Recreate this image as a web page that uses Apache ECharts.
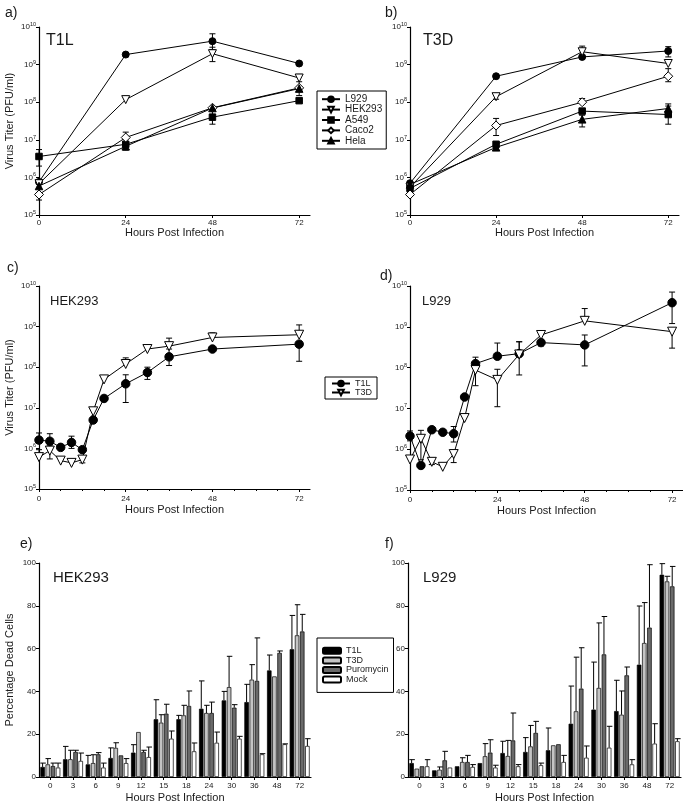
<!DOCTYPE html>
<html><head><meta charset="utf-8">
<script src="https://cdn.jsdelivr.net/npm/echarts@6/dist/echarts.min.js"></script>
<style>html,body{margin:0;padding:0;background:#fff}#c{width:683px;height:804px}</style>
</head><body><div id="c"></div>
<script>
// ---------- DATA ----------
const cellLines = ['L929','HEK293','A549','Caco2','Hela'];
const hoursAB = [0, 24, 48, 72];
const hourTicks = [0, 24, 48, 72];
const hourMinorTicks = [6, 12, 18, 30, 36, 42, 54, 60, 66];

// Panel a) T1L
const aL929    = [7.6e5, 1.85e9, 4.2e9, 1.07e9];
const aL929Hi  = [null, null, 6.6e9, null];
const aL929Lo  = [null, null, 2.5e9, null];
const aHEK293   = [6.8e5, 1.17e8, 1.95e9, 4.4e8];
const aHEK293Hi = [null, null, 2.9e9, 5.5e8];
const aHEK293Lo = [null, null, 1.2e9, null];
const aA549   = [3.6e6, 7.6e6, 4.0e7, 1.1e8];
const aA549Hi = [5.5e6, null, 6.2e7, null];
const aA549Lo = [2.0e6, null, 2.6e7, null];
const aCaco2   = [3.5e5, 1.15e7, 7.1e7, 2.4e8];
const aCaco2Hi = [null, 1.6e7, null, null];
const aCaco2Lo = [2.5e5, null, null, null];
const aHela   = [5.9e5, 6.7e6, 7.0e7, 2.3e8];
const aHelaHi = [null, null, null, 3.5e8];
const aHelaLo = [null, 5.3e6, null, 1.5e8];

// Panel b) T3D
const bL929    = [7.0e5, 4.9e8, 1.6e9, 2.3e9];
const bL929Hi  = [null, null, null, 3.0e9];
const bL929Lo  = [null, null, null, 1.6e9];
const bHEK293   = [5.5e5, 1.4e8, 2.2e9, 1.07e9];
const bHEK293Hi = [null, null, 3.1e9, null];
const bHEK293Lo = [null, 1.2e8, null, null];
const bA549   = [5.1e5, 7.6e6, 5.8e7, 4.7e7];
const bA549Hi = [null, null, null, 7.9e7];
const bA549Lo = [null, null, null, 2.6e7];
const bCaco2   = [3.5e5, 2.4e7, 1.0e8, 4.9e8];
const bCaco2Hi = [null, 3.7e7, 1.25e8, 7.8e8];
const bCaco2Lo = [null, 1.3e7, null, 3.5e8];
const bHela   = [6.5e5, 6.3e6, 3.5e7, 6.8e7];
const bHelaHi = [null, null, 4.5e7, 9.0e7];
const bHelaLo = [null, 5.3e6, 2.2e7, null];

// Panels c) d) time course
const hoursCD = [0, 3, 6, 9, 12, 15, 18, 24, 30, 36, 48, 72];
const cT1L   = [1.6e6, 1.5e6, 1.06e6, 1.4e6, 9.3e5, 5.0e6, 1.7e7, 3.9e7, 7.4e7, 1.8e8, 2.8e8, 3.7e8];
const cT1LHi = [2.4e6, 2.3e6, null, 2.0e6, null, null, null, 6.5e7, 1.0e8, 2.8e8, null, null];
const cT1LLo = [null, null, null, 1.0e6, null, null, null, 1.35e7, 5.0e7, 1.1e8, null, 1.4e8];
const cT3D   = [6.1e5, 8.8e5, 5.0e5, 4.4e5, 5.3e5, 8.2e6, 5.0e7, 1.2e8, 2.8e8, 3.3e8, 5.4e8, 6.3e8];
const cT3DHi = [9.3e5, 1.2e6, null, null, null, null, null, 1.7e8, null, 5.2e8, 7.0e8, 1.1e9];
const cT3DLo = [null, 5.5e5, null, null, 4.4e5, null, null, null, null, null, null, null];

const dT1L   = [2.1e6, 4.0e5, 3.0e6, 2.6e6, 2.4e6, 1.9e7, 1.25e8, 1.9e8, 2.2e8, 4.1e8, 3.6e8, 3.9e9];
const dT1LHi = [2.8e6, null, null, null, 3.6e6, null, 1.8e8, 4.0e8, 4.3e8, null, 6.3e8, 7.1e9];
const dT1LLo = [1.6e6, null, null, null, 1.5e6, null, null, null, null, 3.4e8, 1.1e8, 1.2e9];
const dT3D   = [5.6e5, 1.8e6, 4.9e5, 3.7e5, 7.6e5, 5.8e6, 8.7e7, 5.0e7, 2.1e8, 6.3e8, 1.4e9, 7.6e8];
const dT3DHi = [null, 2.9e6, null, null, null, null, null, 9.1e7, 4.3e8, 7.6e8, 2.8e9, null];
const dT3DLo = [null, 5.5e5, 4.2e5, null, 4.7e5, null, 3.6e7, 1.1e7, 6.6e7, null, null, 3.0e8];

// Panels e) f) percentage dead cells
const catsEF = ['0','3','6','9','12','15','18','24','30','36','48','72'];
const barLabels = ['T1L','T3D','Puromycin','Mock'];
const eT1L    = [4.7, 8.3, 5.9, 8.9, 11.4, 27.0, 27.0, 31.9, 35.8, 35.0, 49.8, 59.7];
const eT1LHi  = [6.5, 14.3, 10.1, 13.6, 15.1, 36.1, 28.8, 44.9, 40.0, 43.3, 57.0, 75.5];
const eT3D    = [5.9, 8.3, 6.5, 13.6, 21.0, 25.4, 28.8, 29.9, 42.0, 45.5, 47.0, 66.2];
const eT3DHi  = [8.6, 12.5, 10.4, 16.0, 21.0, 29.1, 33.5, 33.5, 56.4, 52.5, 47.0, 80.5];
const ePuro   = [5.1, 11.7, 10.6, 10.1, 11.7, 29.6, 33.2, 29.9, 32.4, 44.9, 58.0, 68.0];
const ePuroHi = [6.5, 12.5, 11.4, 10.1, 12.5, 34.0, 40.2, 35.0, 33.8, 65.0, 58.9, 76.0];
const eMock   = [4.4, 7.5, 4.4, 6.5, 9.3, 17.9, 12.0, 16.0, 17.9, 10.6, 15.3, 14.5];
const eMockHi = [6.5, 11.2, 6.5, 8.6, 14.0, 21.5, 15.9, 21.0, 19.0, 10.9, 15.5, 17.9];

const fT1L    = [6.5, 3.1, 5.0, 6.5, 11.2, 11.7, 12.5, 24.9, 31.5, 30.8, 52.5, 94.5];
const fT1LHi  = [8.1, 3.1, 5.0, 6.5, 16.7, 18.4, 22.9, 42.5, 53.7, 45.2, 79.9, 99.7];
const fT3D    = [3.9, 3.4, 7.0, 9.7, 9.8, 14.3, 14.8, 30.7, 41.6, 29.1, 62.6, 91.4];
const fT3DHi  = [3.9, 4.7, 9.0, 15.6, 17.1, 24.1, 14.8, 56.0, 72.0, 40.2, 81.5, 93.8];
const fPuro   = [5.0, 7.8, 7.0, 11.4, 17.1, 20.6, 15.3, 41.3, 57.3, 47.5, 69.8, 89.1];
const fPuroHi = [5.0, 12.0, 10.1, 17.4, 29.9, 26.0, 15.3, 60.4, 75.0, 51.4, 99.2, 98.4];
const fMock   = [5.0, 4.4, 4.7, 4.4, 5.0, 5.5, 7.0, 9.0, 13.7, 5.9, 15.6, 16.7];
const fMockHi = [8.1, 4.4, 5.8, 5.5, 5.8, 6.5, 10.1, 14.5, 23.7, 8.1, 24.9, 17.9];

// ---------- STYLE ----------
const FONT = 'Liberation Sans, Arial, sans-serif';
const TXT = '#1a1a1a';
const cellStyle = {
  L929:   {symbol:'circle',   rotate:0,   fill:'#000', size:7},
  HEK293: {symbol:'triangle', rotate:180, fill:'#fff', size:8},
  A549:   {symbol:'rect',     rotate:0,   fill:'#000', size:6.5},
  Caco2:  {symbol:'diamond',  rotate:0,   fill:'#fff', size:9},
  Hela:   {symbol:'triangle', rotate:0,   fill:'#000', size:7.5}
};
const strainStyle = {
  T1L: {symbol:'circle',   rotate:0,   fill:'#000', size:8.5},
  T3D: {symbol:'triangle', rotate:180, fill:'#fff', size:9}
};
const barColors = ['#000000', '#c4c4c4', '#6a6a6a', '#ffffff'];
const CATGAP = 0.12, BARGAP = 0.15;

const grids = [
  {left:39,  top:27,  width:271, height:188},
  {left:410, top:27,  width:269, height:188},
  {left:39,  top:286, width:271, height:203},
  {left:410, top:286, width:273, height:204},
  {left:39,  top:563, width:272, height:214},
  {left:408, top:563, width:273, height:214}
];

const axisLineStyle = {color:'#000', width:1.2};

function hourAxis(g, labelMargin, nameGap) {
  return {
    type:'value', gridIndex:g, position:'bottom', min:0, max:75,
    axisLine:{show:true, lineStyle:axisLineStyle},
    axisTick:{show:true, customValues:hourTicks, length:3, lineStyle:{color:'#000', width:1}},
    axisLabel:{customValues:hourTicks, fontSize:8, color:TXT, fontFamily:FONT, margin:labelMargin},
    splitLine:{show:false},
    name:'Hours Post Infection', nameLocation:'middle', nameGap:nameGap,
    nameTextStyle:{fontSize:11, color:TXT, fontFamily:FONT}
  };
}
function minorHourAxis(g) {
  return {
    type:'value', gridIndex:g, position:'bottom', min:0, max:75,
    axisLine:{show:false},
    axisTick:{show:true, customValues:hourMinorTicks, length:2, lineStyle:{color:'#000', width:1}},
    axisLabel:{show:false}, splitLine:{show:false}
  };
}
function logAxis(g, name) {
  return {
    type:'log', logBase:10, gridIndex:g, min:1e5, max:1e10,
    axisLine:{show:true, lineStyle:axisLineStyle},
    axisTick:{show:true, length:3, lineStyle:{color:'#000', width:1}},
    axisLabel:{
      margin:3,
      formatter: v => '{b|10}{s|' + Math.round(Math.log10(v)) + '}',
      rich:{
        b:{fontSize:8, lineHeight:11, color:TXT, fontFamily:FONT},
        s:{fontSize:5.5, lineHeight:6, color:TXT, fontFamily:FONT, verticalAlign:'top'}
      }
    },
    splitLine:{show:false}, minorTick:{show:false},
    name: name || '', nameLocation:'middle', nameGap:24,
    nameTextStyle:{fontSize:11, color:TXT, fontFamily:FONT}
  };
}
function pctAxis(g, name) {
  return {
    type:'value', gridIndex:g, min:0, max:100, interval:20,
    axisLine:{show:true, lineStyle:axisLineStyle},
    axisTick:{show:true, length:3, lineStyle:{color:'#000', width:1}},
    axisLabel:{fontSize:8, color:TXT, fontFamily:FONT, margin:3},
    splitLine:{show:false},
    name: name || '', nameLocation:'middle', nameGap:24,
    nameTextStyle:{fontSize:11, color:TXT, fontFamily:FONT}
  };
}
function catAxis(g) {
  return {
    type:'category', gridIndex:g, data:catsEF,
    axisLine:{show:true, lineStyle:axisLineStyle},
    axisTick:{show:true, alignWithLabel:true, length:3, lineStyle:{color:'#000', width:1}},
    axisLabel:{fontSize:8, color:TXT, fontFamily:FONT, margin:5, interval:0},
    name:'Hours Post Infection', nameLocation:'middle', nameGap:15,
    nameTextStyle:{fontSize:11, color:TXT, fontFamily:FONT}
  };
}

function lineSeries(name, st, g, xs, vals) {
  return {
    type:'line', name, xAxisIndex:g, yAxisIndex:g,
    data: xs.map((x, k) => [x, vals[k]]),
    symbol: st.symbol, symbolSize: st.size, symbolRotate: st.rotate,
    showAllSymbol:true,
    lineStyle:{color:'#000', width:1},
    itemStyle:{color:st.fill, borderColor:'#000', borderWidth:1},
    z:3, animation:false
  };
}
function errSeries(g, xs, vals, hi, lo) {
  const data = [];
  xs.forEach((x, k) => {
    if (hi[k] != null || lo[k] != null) {
      data.push([x, hi[k] != null ? hi[k] : vals[k], lo[k] != null ? lo[k] : vals[k], vals[k]]);
    }
  });
  return {
    type:'custom', xAxisIndex:g, yAxisIndex:g, data, z:2, silent:true, animation:false,
    encode:{x:0, y:1},
    renderItem(params, api) {
      const x = api.value(0), h = api.value(1), l = api.value(2), m = api.value(3);
      const pH = api.coord([x, h]), pL = api.coord([x, l]);
      const ch = [{type:'line', shape:{x1:pH[0], y1:pH[1], x2:pL[0], y2:pL[1]}, style:{stroke:'#000', lineWidth:1}}];
      if (h !== m) ch.push({type:'line', shape:{x1:pH[0]-3, y1:pH[1], x2:pH[0]+3, y2:pH[1]}, style:{stroke:'#000', lineWidth:1}});
      if (l !== m) ch.push({type:'line', shape:{x1:pL[0]-3, y1:pL[1], x2:pL[0]+3, y2:pL[1]}, style:{stroke:'#000', lineWidth:1}});
      return {type:'group', children:ch};
    }
  };
}
function barSeries(i, g, vals) {
  return {
    type:'bar', name:'bar_' + barLabels[i], xAxisIndex:g, yAxisIndex:g, data:vals,
    barCategoryGap:(CATGAP*100)+'%', barGap:(BARGAP*100)+'%',
    itemStyle:{color:barColors[i], borderColor:'#000', borderWidth:0.7},
    z:2, animation:false
  };
}
function barErrSeries(g, valsList, hiList) {
  const data = [];
  valsList.forEach((vals, i) => {
    vals.forEach((v, j) => { if (hiList[i][j] > v) data.push([j, hiList[i][j], v, i]); });
  });
  return {
    type:'custom', xAxisIndex:g, yAxisIndex:g, data, z:3, silent:true, animation:false,
    encode:{x:0, y:1},
    renderItem(params, api) {
      const j = api.value(0), h = api.value(1), v = api.value(2), i = api.value(3);
      const band = api.size([1, 0])[0];
      const usable = band * (1 - CATGAP);
      const bw = usable / (4 + 3 * BARGAP);
      const c0 = api.coord([j, 0])[0];
      const cx = c0 - usable / 2 + i * bw * (1 + BARGAP) + bw / 2;
      const yT = api.coord([j, h])[1], yV = api.coord([j, v])[1];
      return {type:'group', children:[
        {type:'line', shape:{x1:cx, y1:yV, x2:cx, y2:yT}, style:{stroke:'#000', lineWidth:1}},
        {type:'line', shape:{x1:cx - bw/2, y1:yT, x2:cx + bw/2 + 1, y2:yT}, style:{stroke:'#000', lineWidth:1}}
      ]};
    }
  };
}

// ---------- BUILD ----------
const series = [];
const aSets = {L929:[aL929,aL929Hi,aL929Lo], HEK293:[aHEK293,aHEK293Hi,aHEK293Lo], A549:[aA549,aA549Hi,aA549Lo], Caco2:[aCaco2,aCaco2Hi,aCaco2Lo], Hela:[aHela,aHelaHi,aHelaLo]};
const bSets = {L929:[bL929,bL929Hi,bL929Lo], HEK293:[bHEK293,bHEK293Hi,bHEK293Lo], A549:[bA549,bA549Hi,bA549Lo], Caco2:[bCaco2,bCaco2Hi,bCaco2Lo], Hela:[bHela,bHelaHi,bHelaLo]};
[[0, aSets], [1, bSets]].forEach(([g, sets]) => {
  cellLines.forEach(n => {
    const [v, hi, lo] = sets[n];
    series.push(errSeries(g, hoursAB, v, hi, lo));
    series.push(lineSeries(n, cellStyle[n], g, hoursAB, v));
  });
});
const cSets = {T1L:[cT1L,cT1LHi,cT1LLo], T3D:[cT3D,cT3DHi,cT3DLo]};
const dSets = {T1L:[dT1L,dT1LHi,dT1LLo], T3D:[dT3D,dT3DHi,dT3DLo]};
[[2, cSets], [3, dSets]].forEach(([g, sets]) => {
  ['T1L','T3D'].forEach(n => {
    const [v, hi, lo] = sets[n];
    series.push(errSeries(g, hoursCD, v, hi, lo));
    series.push(lineSeries(n, strainStyle[n], g, hoursCD, v));
  });
});
const eVals = [eT1L, eT3D, ePuro, eMock], eHis = [eT1LHi, eT3DHi, ePuroHi, eMockHi];
const fVals = [fT1L, fT3D, fPuro, fMock], fHis = [fT1LHi, fT3DHi, fPuroHi, fMockHi];
eVals.forEach((v, i) => series.push(barSeries(i, 4, v)));
series.push(barErrSeries(4, eVals, eHis));
fVals.forEach((v, i) => series.push(barSeries(i, 5, v)));
series.push(barErrSeries(5, fVals, fHis));

function txt(text, x, y, size) {
  return {type:'text', x, y, silent:true,
    style:{text, fontSize:size, fontFamily:FONT, fill:TXT, verticalAlign:'middle', align:'left'}};
}

const legendBase = {
  orient:'vertical', selectedMode:false, itemGap:0, itemTextGap:3,
  borderColor:'#000', borderWidth:1, borderRadius:0, backgroundColor:'#fff'
};

const option = {
  backgroundColor:'#fff',
  animation:false,
  grid: grids,
  xAxis: [hourAxis(0, 4, 12), hourAxis(1, 4, 12), hourAxis(2, 6, 15), hourAxis(3, 6, 15),
          catAxis(4), catAxis(5), minorHourAxis(2), minorHourAxis(3)],
  yAxis: [logAxis(0, 'Virus Titer (PFU/ml)'), logAxis(1), logAxis(2, 'Virus Titer (PFU/ml)'), logAxis(3),
          pctAxis(4, 'Percentage Dead Cells'), pctAxis(5)],
  legend: [
    Object.assign({}, legendBase, {data:cellLines, left:317, top:91, padding:[3,4,3,4],
      itemWidth:18, itemHeight:7, textStyle:{fontSize:10, lineHeight:10.4, color:TXT, fontFamily:FONT}}),
    Object.assign({}, legendBase, {data:['T1L','T3D'], left:325, top:377, padding:[2,5,2,6],
      itemWidth:18, itemHeight:7, textStyle:{fontSize:9, lineHeight:8, color:TXT, fontFamily:FONT}}),
    Object.assign({}, legendBase, {data:barLabels.map(n => 'bar_' + n), left:317, top:638, padding:[8,5,8,5],
      itemWidth:18, itemHeight:6, formatter: n => n.replace('bar_', ''),
      textStyle:{fontSize:9, lineHeight:9.6, color:TXT, fontFamily:FONT}})
  ],
  graphic: [
    txt('a)', 5, 13, 14), txt('b)', 385, 13, 14),
    txt('c)', 7, 268, 14), txt('d)', 380, 276, 14),
    txt('e)', 20, 544, 14), txt('f)', 385, 544, 14),
    txt('T1L', 46, 41, 16), txt('T3D', 423, 41, 16),
    txt('HEK293', 50, 301, 13), txt('L929', 422, 301, 13),
    txt('HEK293', 53, 578, 15), txt('L929', 423, 578, 15)
  ],
  series
};

const chart = echarts.init(document.getElementById('c'), null, {renderer:'canvas'});
chart.setOption(option);
</script>
</body></html>
